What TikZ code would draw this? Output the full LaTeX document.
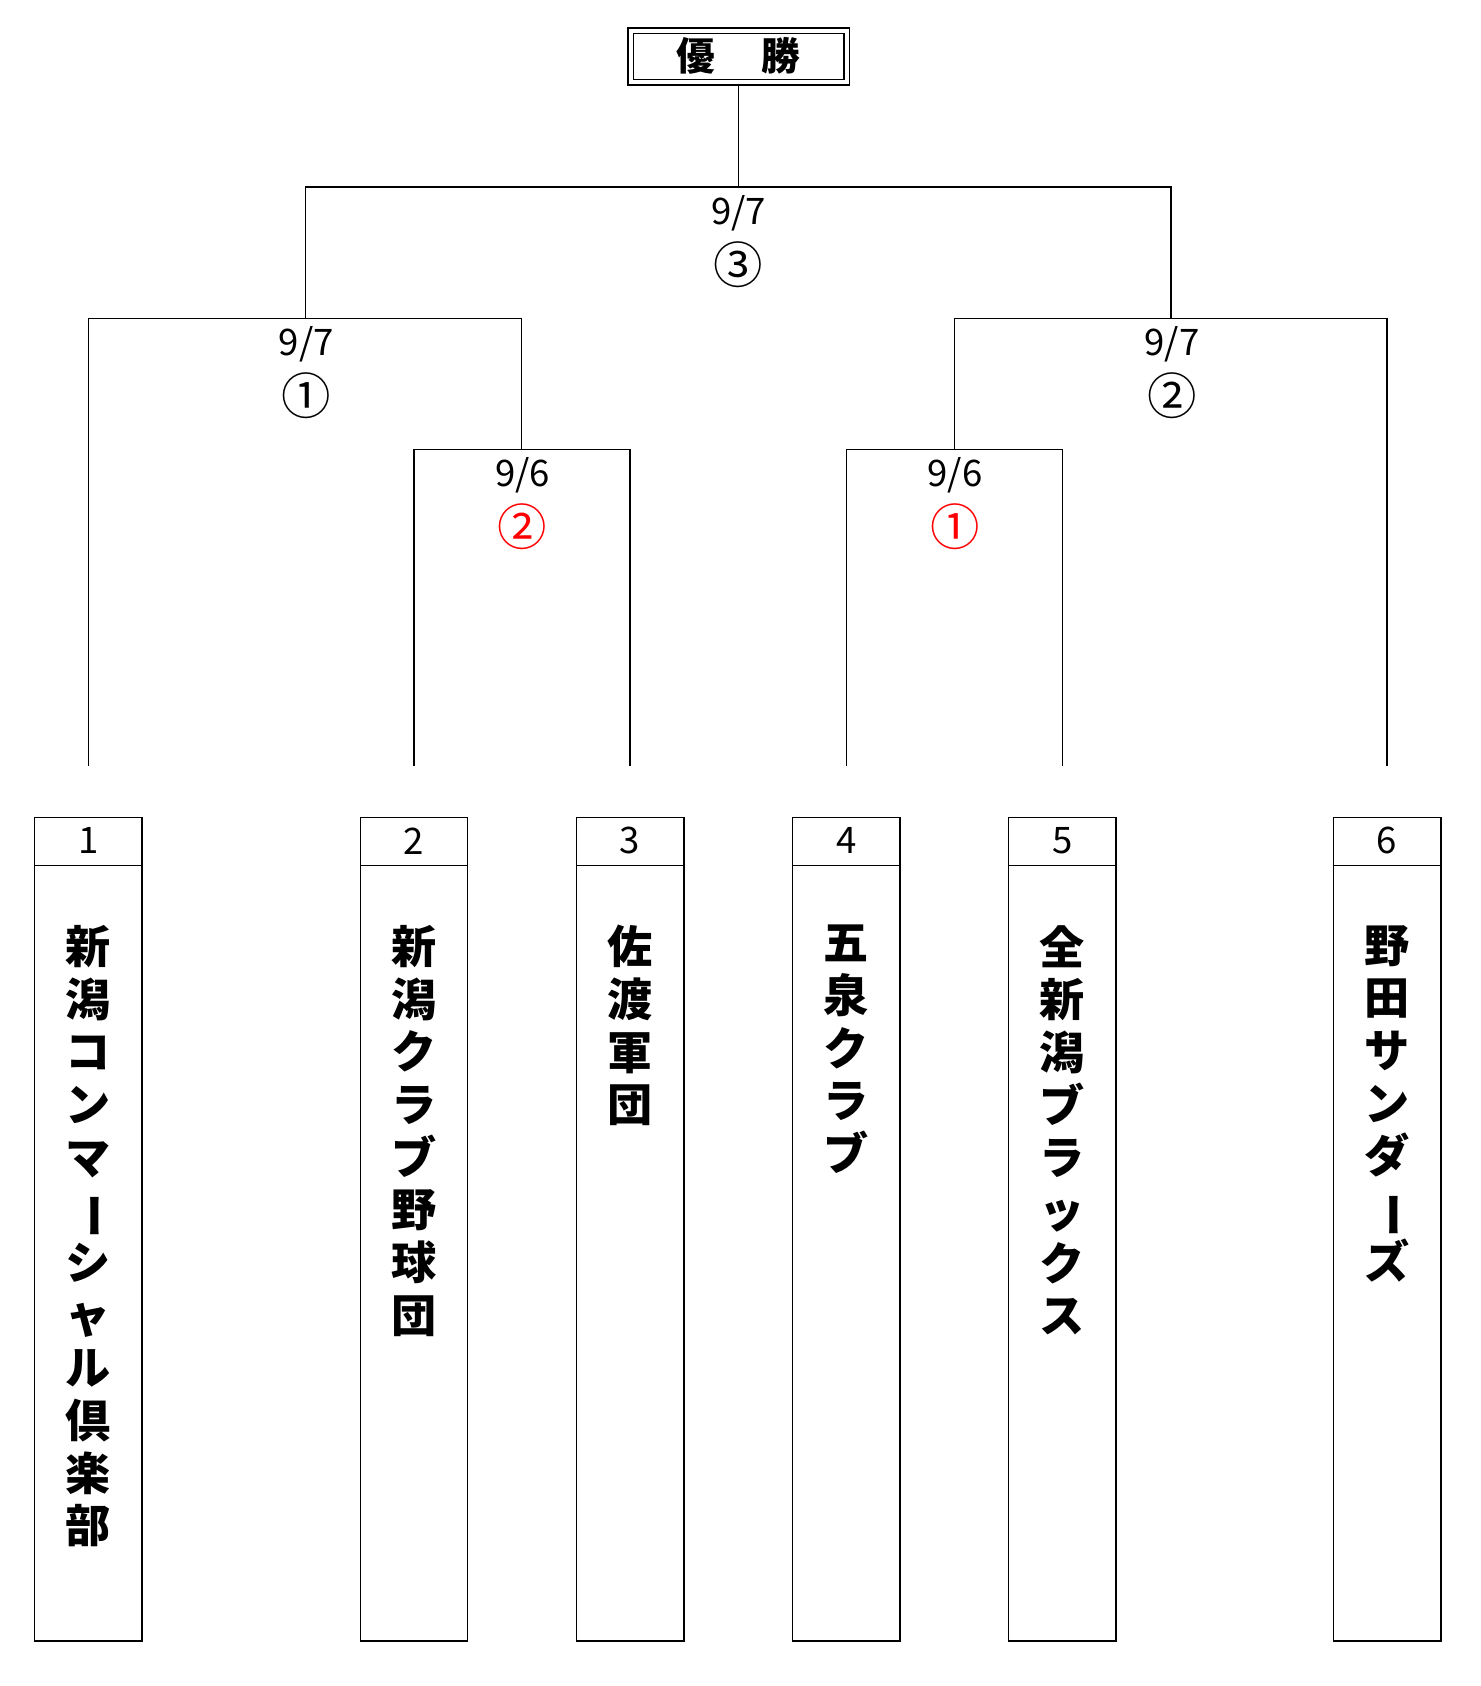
\documentclass[tikz,border=0pt]{standalone}
\usepackage{fontspec}
\setmainfont{Noto Sans CJK JP}
\newcommand{\vb}{\rotatebox[origin=c]{-90}{ー}}
\begin{document}
\begin{tikzpicture}[x=0.5pt,y=-0.5pt,
  ln/.style={line width=0.6pt},
  lab/.style={font=\fontsize{17}{17}\selectfont},
  circ/.style={font=\fontsize{23}{23}\selectfont},
  num/.style={font=\fontsize{17}{17}\selectfont},
  team/.style={anchor=north,align=center,font=\fontsize{21}{24.5}\selectfont\bfseries,inner sep=0pt}]
\useasboundingbox (0,0) rectangle (1377,1568);
% champion box
\draw[ln] (584,26) rectangle (790,79);
\draw[ln] (589,31) rectangle (785,74);
\node[font=\fontsize{18}{18}\selectfont\bfseries] (champ) at (687,52) {優\hspace{1.2em}勝};
% final
\coordinate (c0) at (687,79); \coordinate (c1) at (687,174);
\draw[ln] (c0) -- (c1);
\draw[ln] (284,296) -- (284,174) -- (1089,174) -- (1089,296);
\node[lab] (f1) at (687,198) {9/7};
\node[circ] (f2) at (687,246) {③};
% left semi
\draw[ln] (82,712) -- (82,296) -- (485,296) -- (485,418);
\draw[ln] (385,712) -- (385,418) -- (586,418) -- (586,712);
\node[lab] (l1) at (285,320) {9/7};
\node[circ] (l2) at (285,368) {①};
\node[lab] (q1) at (486,442) {9/6};
\node[circ,red] (q2) at (486,490) {②};
% right semi
\draw[ln] (888,418) -- (888,296) -- (1290,296) -- (1290,712);
\draw[ln] (787,712) -- (787,418) -- (988,418) -- (988,712);
\node[lab] (r1) at (1090,320) {9/7};
\node[circ] (r2) at (1090,368) {②};
\node[lab] (q3) at (888,442) {9/6};
\node[circ,red] (q4) at (888,490) {①};
% team boxes
\foreach \x/\n/\t in {82/1/{新\\潟\\コ\\ン\\マ\\\vb\\シ\\ャ\\ル\\倶\\楽\\部},
  385/2/{新\\潟\\ク\\ラ\\ブ\\野\\球\\団},
  586/3/{佐\\渡\\軍\\団},
  787/4/{五\\泉\\ク\\ラ\\ブ},
  988/5/{全\\新\\潟\\ブ\\ラ\\ッ\\ク\\ス},
  1290/6/{野\\田\\サ\\ン\\ダ\\\vb\\ズ}}{
  \draw[ln] (\x-50,760) rectangle (\x+50,1526);
  \draw[ln] (\x-50,805) -- (\x+50,805);
  \node[num] (n\n) at (\x,782) {\n};
  \node[team] (t\n) at (\x,860) {\t};
}
\end{tikzpicture}
\end{document}
